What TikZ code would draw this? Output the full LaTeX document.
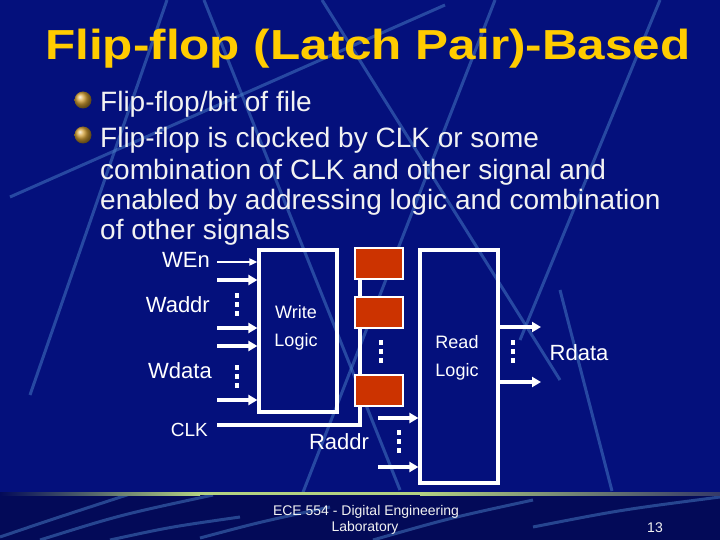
\documentclass[tikz,border=0pt]{standalone}
\usepackage{fontspec}
\setmainfont{Liberation Sans}
\usetikzlibrary{arrows.meta}
\definecolor{bgtop}{HTML}{04107C}
\definecolor{bgbot}{HTML}{030A58}
\definecolor{ttl}{HTML}{FFCC00}
\definecolor{ffred}{HTML}{CC3300}
\definecolor{streak}{HTML}{4A80C8}
\definecolor{grn}{HTML}{B4D282}
\definecolor{gold}{HTML}{D4A035}
\definecolor{txt}{HTML}{F2F2F2}
\begin{document}
\begin{tikzpicture}[x=1pt,y=-1pt,
  wire/.style={draw=white,line width=3.2pt},
  sig/.style={draw=white,line width=4pt,-{Triangle[length=9pt,width=10pt]}},
  thinsig/.style={draw=white,line width=1.7pt,-{Triangle[length=8pt,width=7pt]}},
  logicbox/.style={draw=white,line width=3.2pt,minimum width=78pt,inner sep=0},
  ffbox/.style={draw=white,line width=2.7pt,fill=ffred,minimum width=48pt,minimum height=31pt,inner sep=0},
  lbl/.style={text=white,font=\fontsize{22}{24}\selectfont,inner sep=0},
  lblsmall/.style={text=white,font=\fontsize{18}{28}\selectfont,inner sep=0,align=center},
  bullettext/.style={text=txt,font=\fontsize{28}{30}\selectfont,inner sep=0,anchor=base west},
  foot/.style={text=txt,font=\fontsize{14}{16}\selectfont,inner sep=0},
  streakline/.style={draw=streak,line width=3pt,opacity=0.5},
  vdots3/.pic={\foreach \dy in {-9,0,9} \fill[white] (-2,\dy-2.5) rectangle (2,\dy+2.5);}
]
\useasboundingbox (0,0) rectangle (720,540);
% background
\fill[bgtop] (0,0) rectangle (720,493);
\fill[bgbot] (0,493) rectangle (720,540);
\begin{scope}
\clip (0,0) rectangle (720,491);
\draw[streakline] (10,197) -- (445,5);
\draw[streakline] (167,0) -- (30,395);
\draw[streakline] (204,0) -- (400,490);
\draw[streakline] (322,0) -- (560,380);
\draw[streakline] (495,0) -- (300,500);
\draw[streakline] (660,0) -- (520,340);
\draw[streakline] (560,290) -- (612,491);
\end{scope}
\begin{scope}
\clip (0,495) rectangle (720,540);
\draw[streakline] (0,537) .. controls (50,520) .. (133,493);
\draw[streakline] (40,540) .. controls (120,515) .. (213,495);
\draw[streakline] (110,540) .. controls (170,527) .. (240,517);
\draw[streakline] (200,538) .. controls (260,522) .. (330,507);
\draw[streakline] (373,540) .. controls (450,518) .. (533,500);
\draw[streakline] (533,527) .. controls (620,510) .. (720,497);
\end{scope}
% green rule
\shade[left color=bgbot, right color=grn] (0,492) rectangle (200,495);
\fill[grn] (200,492) rectangle (420,495);
\shade[left color=grn, right color=bgbot!60!gray] (420,492) rectangle (720,495);
% title
\node[anchor=base west,text=ttl,inner sep=0,font=\fontsize{42}{44}\selectfont\bfseries] (title) at (45,60) {\scalebox{1.177}[1]{Flip-flop (Latch Pair)-Based}};
% bullets
\shade[ball color=gold] (83,100) circle (8.5);
\shade[ball color=gold] (83,135) circle (8.5);
\node[bullettext] (b1) at (100,112) {Flip-flop/bit of file};
\node[bullettext] (b2a) at (100,148) {Flip-flop is clocked by CLK or some};
\node[bullettext] (b2b) at (100,180) {combination of CLK and other signal and};
\node[bullettext] (b2c) at (100,210) {enabled by addressing logic and combination};
\node[bullettext] (b2d) at (100,240) {of other signals};
% clock wire (behind flip-flops)
\coordinate (clk) at (217,425);
\coordinate (tap) at (360,425);
\coordinate (ftop) at (360,265);
\draw[wire] (clk) -- (tap) -- (ftop);
% logic boxes
\node[logicbox,minimum height=162pt] (wl) at (298,331) {};
\node[logicbox,minimum height=233pt] (rl) at (459,366.5) {};
\node[lblsmall] (wtxt) at (296,328) {Write\\Logic};
\node[lblsmall] (rtxt) at (457,358) {Read\\Logic};
% flip-flops
\node[ffbox] (f1) at (379,263.5) {};
\node[ffbox] (f2) at (379,312.5) {};
\node[ffbox] (f3) at (379,390.5) {};
% write inputs
\coordinate (wen) at (217,262);
\coordinate (wa1) at (217,280);
\coordinate (wa2) at (217,328);
\coordinate (wd1) at (217,346);
\coordinate (wd2) at (217,400);
\draw[thinsig] (wen) -- (wen -| wl.west);
\draw[sig] (wa1) -- (wa1 -| wl.west);
\draw[sig] (wa2) -- (wa2 -| wl.west);
\draw[sig] (wd1) -- (wd1 -| wl.west);
\draw[sig] (wd2) -- (wd2 -| wl.west);
% read address inputs
\coordinate (ra1) at (378,418);
\coordinate (ra2) at (378,467);
\draw[sig] (ra1) -- (ra1 -| rl.west);
\draw[sig] (ra2) -- (ra2 -| rl.west);
% read data outputs
\coordinate (rd1) at (541,327);
\coordinate (rd2) at (541,382);
\draw[sig] (rd1 -| rl.east) -- (rd1);
\draw[sig] (rd2 -| rl.east) -- (rd2);
% dots
\pic at (237,304) {vdots3};
\pic at (237,376) {vdots3};
\pic at (381,351) {vdots3};
\pic at (399,441) {vdots3};
\pic at (513,351) {vdots3};
% labels
\node[lbl,anchor=east] (wenl) at (210,260) {WEn};
\node[lbl,anchor=east] (waddrl) at (210,305) {Waddr};
\node[lbl,anchor=east] (wdatal) at (212,371) {Wdata};
\node[lbl,anchor=east,font=\fontsize{19}{21}\selectfont] (clkl) at (208,430) {CLK};
\node[lbl] (raddrl) at (339,442) {Raddr};
\node[lbl] (rdatal) at (579,353) {Rdata};
% footer
\node[foot] (ft1) at (366,512) {ECE 554 - Digital Engineering};
\node[foot] (ft2) at (365,528) {Laboratory};
\node[foot] (pg) at (655,528) {13};
\end{tikzpicture}
\end{document}
